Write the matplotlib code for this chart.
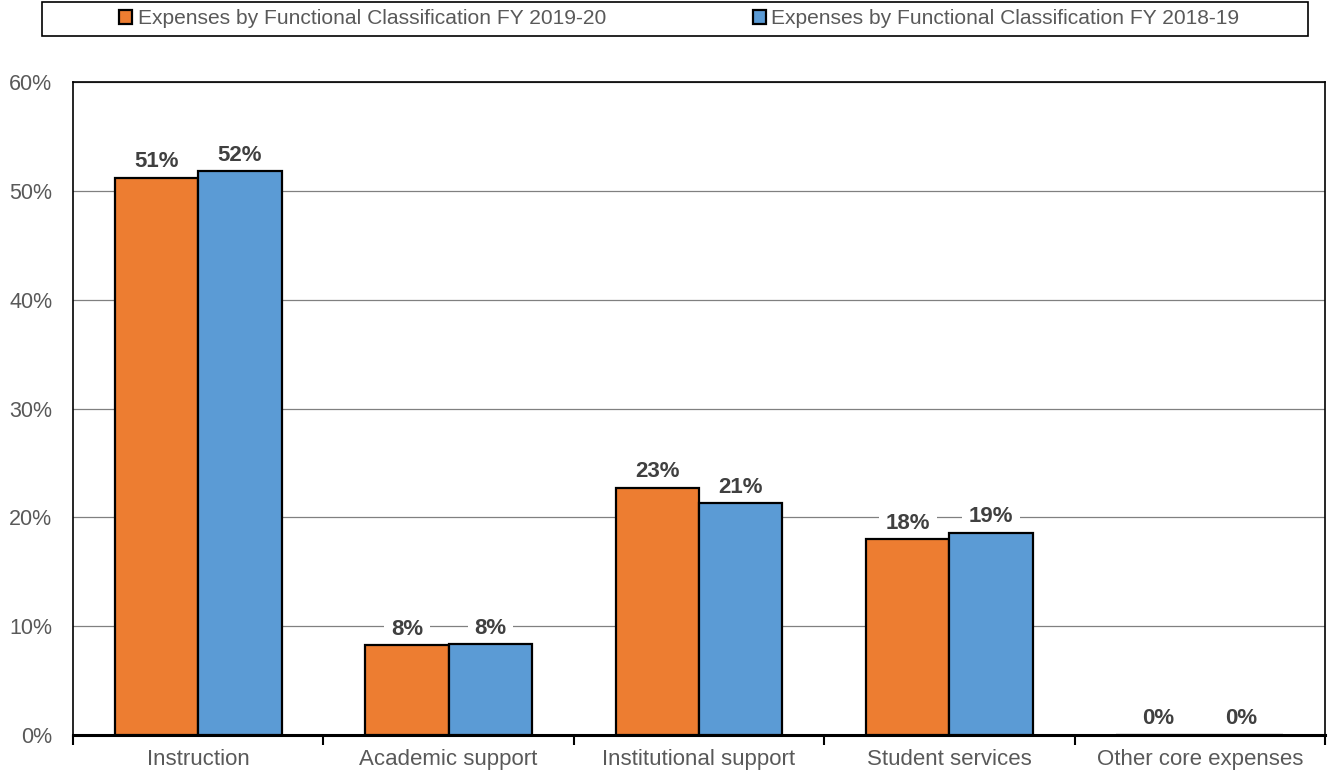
import numpy as np
import matplotlib.pyplot as plt
from matplotlib.patches import Rectangle

plt.rcParams['font.family'] = ['Liberation Sans', 'DejaVu Sans']

categories = ['Instruction', 'Academic support', 'Institutional support',
              'Student services', 'Other core expenses']
fy_2019_20 = [51.2, 8.25, 22.7, 18.0, 0.0]
fy_2018_19 = [51.8, 8.35, 21.3, 18.6, 0.0]
label_2019_20 = ['51%', '8%', '23%', '18%', '0%']
label_2018_19 = ['52%', '8%', '21%', '19%', '0%']
series_names = ['Expenses by Functional Classification FY 2019-20',
                'Expenses by Functional Classification FY 2018-19']

ORANGE = '#ED7D31'
BLUE = '#5B9BD5'
TXT = '#595959'

fig = plt.figure(figsize=(13.29, 7.72), dpi=100)
ax = fig.add_axes([73 / 1329, 1 - 735 / 772, (1325 - 73) / 1329, (735 - 82) / 772])

x = np.arange(len(categories))
w = 0.333
b1 = ax.bar(x - w / 2, fy_2019_20, w, color=ORANGE, edgecolor='black', linewidth=1.6,
            label=series_names[0], zorder=3)
b2 = ax.bar(x + w / 2, fy_2018_19, w, color=BLUE, edgecolor='black', linewidth=1.6,
            label=series_names[1], zorder=3)

# data labels: white box hides gridlines, but sits under the bars
for bars, labels in ((b1, label_2019_20), (b2, label_2018_19)):
    for r, t in zip(bars, labels):
        ax.annotate(t, (r.get_x() + r.get_width() / 2, r.get_height()),
                    xytext=(0, 4), textcoords='offset points', ha='center', va='bottom',
                    fontsize=16, fontweight='bold', color='#404040', zorder=2,
                    bbox=dict(boxstyle='square,pad=0.3', fc='white', ec='none'))

ax.set_xlim(-0.5, len(categories) - 0.5)
ax.set_ylim(0, 60)
ax.set_yticks(range(0, 61, 10))
ax.set_yticklabels([f'{v}%' for v in range(0, 61, 10)])
ax.yaxis.grid(True, color='#808080', linewidth=0.9, zorder=0)
ax.tick_params(axis='y', length=0, pad=15, labelsize=15.5, labelcolor=TXT)

ax.set_xticks(x)
ax.set_xticklabels(categories)
ax.tick_params(axis='x', which='major', length=0, pad=10, labelsize=16, labelcolor=TXT)
ax.set_xticks(np.arange(-0.5, len(categories), 1.0), minor=True)
ax.tick_params(axis='x', which='minor', length=7, width=1.5, direction='out', color='black')

for s in ax.spines.values():
    s.set_color('black')
    s.set_linewidth(1.2)
ax.spines['bottom'].set_linewidth(2.2)

# legend inside a wide framed box across the top
fig.patches.append(Rectangle((42 / 1329, 1 - 36 / 772), (1308 - 42) / 1329, 34 / 772,
                             transform=fig.transFigure, fill=False, ec='black', lw=1.2))
leg = fig.legend(handles=[b1, b2], loc='center', bbox_to_anchor=(0.511, 1 - 19 / 772),
                 ncol=2, frameon=False, fontsize=15.1, handlelength=0.65, handleheight=0.65,
                 handletextpad=0.25, columnspacing=7.0, labelcolor=TXT)

fig.savefig('out.png', dpi=100)
